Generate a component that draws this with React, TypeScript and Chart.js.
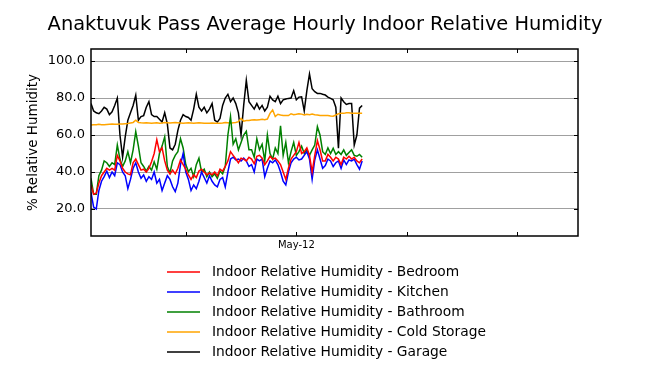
import React, { useEffect, useRef } from 'react';
import { Chart, registerables } from 'chart.js';

Chart.register(...registerables);

const TITLE = 'Anaktuvuk Pass Average Hourly Indoor Relative Humidity';
const Y_TITLE = '% Relative Humidity';
const STEP_HOURS = 4; // hours between samples, starting Apr-29 00:00
const X_MAX_HOURS = 740;
const TICK_HOURS = [144, 312, 480, 648];
const TICK_LABELS = ['', 'May-12', '', ''];
const Y_TICKS = [20, 40, 60, 80, 100];
const Y_MIN = 5.4;
const Y_MAX = 106.5;

const SERIES_LABELS = [
  'Indoor Relative Humidity - Bedroom',
  'Indoor Relative Humidity - Kitchen',
  'Indoor Relative Humidity - Bathroom',
  'Indoor Relative Humidity - Cold Storage',
  'Indoor Relative Humidity - Garage',
];
const SERIES_COLORS = ['#ff0000', '#0000ff', '#008000', '#ffa500', '#000000'];

const BEDROOM = [
  33, 28, 28.5, 34, 38, 40, 42, 41, 42, 41,
  49, 46, 42, 40, 39, 38.5, 45, 47, 44, 41,
  41.5, 40, 42, 45.5, 50, 57.5, 51, 53, 46, 41,
  39, 41, 39, 42, 46.5, 44, 41.5, 38.4, 36, 38.5,
  37, 40.5, 41.5, 40, 38.5, 39.5, 38.5, 40, 38, 41.5,
  40.5, 43, 46, 51, 49, 47, 45, 47.5, 47, 46,
  48, 47, 44.5, 48.5, 49, 47.5, 44, 46, 48.5, 47,
  47.5, 46, 44, 40, 36, 42, 47, 49, 51, 56,
  50, 51, 53, 49, 40, 49, 57, 52, 46, 46,
  49.5, 48, 46, 48, 47, 44, 48, 47, 48.5, 47,
  48, 46, 45, 47,
];

const KITCHEN = [
  29, 21, 20, 30, 35, 37.5, 40.5, 37, 40, 38,
  45, 44, 40, 38, 31, 36, 42, 45, 40, 36.6,
  38.4, 35, 37.5, 36, 40, 34, 36, 30, 34, 38,
  36, 32, 29.4, 34, 44, 50, 40, 36, 30, 33,
  31, 35, 40, 37, 34, 38, 35, 33, 32, 36,
  37, 32, 40, 47, 48, 46.5, 47, 46, 47.5, 46,
  43, 44, 40, 47, 46, 47, 37.5, 42, 46, 45,
  46.5, 44, 40, 35, 33, 40, 45, 47, 48, 46.5,
  47, 49, 51, 47, 36, 46.5, 52, 47, 42, 43.5,
  47, 46, 43, 45, 46, 42, 46.5, 44, 46.5, 46,
  47, 44, 41.5, 46,
];

const BATHROOM = [
  36.6, 28, 28, 38, 41, 46, 45, 43, 45, 44,
  54.6, 47, 43, 46, 51, 45, 52, 61.8, 54, 45,
  43, 40.5, 43, 41, 45.5, 41.5, 50, 54, 59, 43,
  39.5, 46, 49, 51, 58, 53, 44, 40.2, 42, 37.5,
  44, 47.5, 40, 41.5, 37.5, 40, 37.5, 39, 36.6, 40.5,
  39, 43, 60, 70, 55, 58, 52, 56, 60, 62,
  52, 52, 48, 58, 52, 55, 46, 60, 50, 47,
  53, 50, 65, 49, 56, 45, 51, 56, 49, 51,
  54, 50, 52, 49, 52, 54.6, 64.5, 60, 51, 49.5,
  53, 50, 52.8, 49.5, 51, 49.5, 52, 49, 50.5, 52,
  49, 48.5, 49.5, 48,
];

const COLD_STORAGE = [
  65.4, 65.5, 65.6, 65.8, 65.6, 65.5, 65.7, 65.8, 65.9, 65.8,
  65.8, 65.9, 66.0, 66.1, 66.2, 66.5, 66.8, 68.0, 66.8, 66.6,
  66.5, 66.6, 66.5, 66.4, 66.5, 66.6, 66.4, 66.5, 66.7, 66.6,
  66.5, 66.6, 66.7, 66.6, 66.5, 66.4, 66.5, 66.6, 66.5, 66.4,
  66.5, 66.6, 66.5, 66.4, 66.3, 66.4, 66.5, 66.4, 66.3, 66.4,
  66.5, 66.8, 66.6, 66.4, 66.6, 66.8, 67.2, 69, 67.5, 67.8,
  67.8, 68.1, 68.2, 68.1, 68.3, 68.5, 68.3, 68.6, 71.7, 73.5,
  70, 71.2, 70.8, 70.6, 70.5, 70.5, 71.5, 71, 71.2, 71.5,
  71.3, 70.8, 71.2, 71, 71.3, 71, 70.8, 70.6, 70.5, 70.5,
  70.6, 70.3, 70.2, 70.8, 71.5, 71.7, 71.7, 72, 72, 71.8,
  71.7, 71.7, 71.7, 71.7,
];

const GARAGE = [
  77, 73, 72, 71.5, 73, 75, 74, 71, 72.5, 76,
  80, 60, 48, 59, 68, 72, 76, 81.5, 68, 70,
  70.5, 75, 78, 71, 70, 70, 68.5, 67, 72, 66,
  53, 52, 55, 62.5, 68, 71, 70, 69.5, 68, 74,
  82, 75, 73, 75, 72, 74, 77, 68, 67, 69,
  76, 80, 82, 78, 80, 77, 72, 60, 76, 89.5,
  78, 76, 74, 77, 74, 76, 73, 75, 81, 79,
  78, 81, 77, 79, 79.5, 79.8, 80, 84, 79, 80.5,
  80.7, 73, 84, 93, 85, 83.4, 82.5, 82.5, 82, 81.6,
  80.5, 79.8, 79, 75, 52.8, 80, 78, 76.5, 77, 77,
  54.6, 60, 74.5, 76,
];

const SERIES = [BEDROOM, KITCHEN, BATHROOM, COLD_STORAGE, GARAGE];

const FONT = '"DejaVu Sans", sans-serif';

const toPoints = (values: number[]) => values.map((v, i) => ({ x: i * STEP_HOURS, y: v }));

const framePlugin = {
  id: 'frameAndLegend',
  afterDraw(chart: any) {
    const { ctx, chartArea: a, scales, width } = chart;
    ctx.save();

    // title
    ctx.fillStyle = '#000';
    ctx.font = `19.4px ${FONT}`;
    ctx.textAlign = 'center';
    ctx.textBaseline = 'middle';
    ctx.fillText(TITLE, width / 2, 25);

    // inward tick marks
    ctx.strokeStyle = '#000';
    ctx.lineWidth = 1;
    ctx.beginPath();
    for (const v of Y_TICKS) {
      const y = Math.round(scales.y.getPixelForValue(v)) + 0.5;
      ctx.moveTo(a.left, y);
      ctx.lineTo(a.left + 4, y);
      ctx.moveTo(a.right, y);
      ctx.lineTo(a.right - 4, y);
    }
    for (const h of TICK_HOURS) {
      const x = Math.round(scales.x.getPixelForValue(h)) + 0.5;
      ctx.moveTo(x, a.top);
      ctx.lineTo(x, a.top + 4);
      ctx.moveTo(x, a.bottom);
      ctx.lineTo(x, a.bottom - 4);
    }
    ctx.stroke();
    ctx.lineWidth = 1.5;
    ctx.strokeRect(a.left, a.top, a.right - a.left, a.bottom - a.top);

    // legend
    const lx0 = 167;
    const lx1 = 200;
    const tx = 212;
    const ly0 = Math.round(a.bottom) + 36;
    const lstep = 20;
    ctx.font = `13.8px ${FONT}`;
    ctx.textBaseline = 'middle';
    ctx.textAlign = 'left';
    SERIES_LABELS.forEach((label, i) => {
      const y = ly0 + i * lstep;
      ctx.strokeStyle = SERIES_COLORS[i];
      ctx.lineWidth = 1.5;
      ctx.beginPath();
      ctx.moveTo(lx0, y);
      ctx.lineTo(lx1, y);
      ctx.stroke();
      ctx.fillStyle = '#000';
      ctx.fillText(label, tx, y);
    });
    ctx.restore();
  },
};

export default function App() {
  const ref = useRef<HTMLCanvasElement | null>(null);

  useEffect(() => {
    if (!ref.current) return;
    const chart = new Chart(ref.current, {
      type: 'line',
      data: {
        datasets: SERIES.map((vals, i) => ({
          label: SERIES_LABELS[i],
          data: toPoints(vals),
          borderColor: SERIES_COLORS[i],
          backgroundColor: SERIES_COLORS[i],
          borderWidth: 1.5,
          pointRadius: 0,
          tension: 0,
          fill: false,
        })),
      },
      options: {
        responsive: false,
        animation: false,
        devicePixelRatio: 1,
        layout: { padding: { left: 0, right: 72, top: 49, bottom: 119 } },
        plugins: {
          legend: { display: false },
          tooltip: { enabled: false },
          title: { display: false },
        },
        scales: {
          x: {
            type: 'linear',
            min: 0,
            max: X_MAX_HOURS,
            grid: { display: false, drawTicks: false },
            border: { display: false },
            afterBuildTicks: (scale: any) => {
              scale.ticks = TICK_HOURS.map((v) => ({ value: v }));
            },
            afterFit: (scale: any) => {
              scale.height = 20;
            },
            ticks: {
              autoSkip: false,
              maxRotation: 0,
              padding: 3,
              color: '#000',
              font: { family: FONT, size: 10 },
              callback: (v: any) => {
                const idx = TICK_HOURS.indexOf(Number(v));
                return idx >= 0 ? TICK_LABELS[idx] : '';
              },
            },
          },
          y: {
            type: 'linear',
            min: Y_MIN,
            max: Y_MAX,
            grid: { color: '#a0a0a0', lineWidth: 1, drawTicks: false },
            border: { display: false },
            afterBuildTicks: (scale: any) => {
              scale.ticks = Y_TICKS.map((v) => ({ value: v }));
            },
            afterFit: (scale: any) => {
              scale.width = 91;
            },
            ticks: {
              padding: 6,
              color: '#000',
              font: { family: FONT, size: 13 },
              callback: (v: any) => Number(v).toFixed(1),
            },
            title: {
              display: true,
              text: Y_TITLE,
              color: '#000',
              font: { family: FONT, size: 13.5 },
              padding: { top: 25, bottom: 0 },
            },
          },
        },
      },
      plugins: [framePlugin],
    } as any);
    return () => chart.destroy();
  }, []);

  return (
    <div style={{ position: 'absolute', left: 0, top: 0, width: 650, height: 375, background: '#fff' }}>
      <canvas ref={ref} width={650} height={375} style={{ width: 650, height: 375 }} />
    </div>
  );
}
